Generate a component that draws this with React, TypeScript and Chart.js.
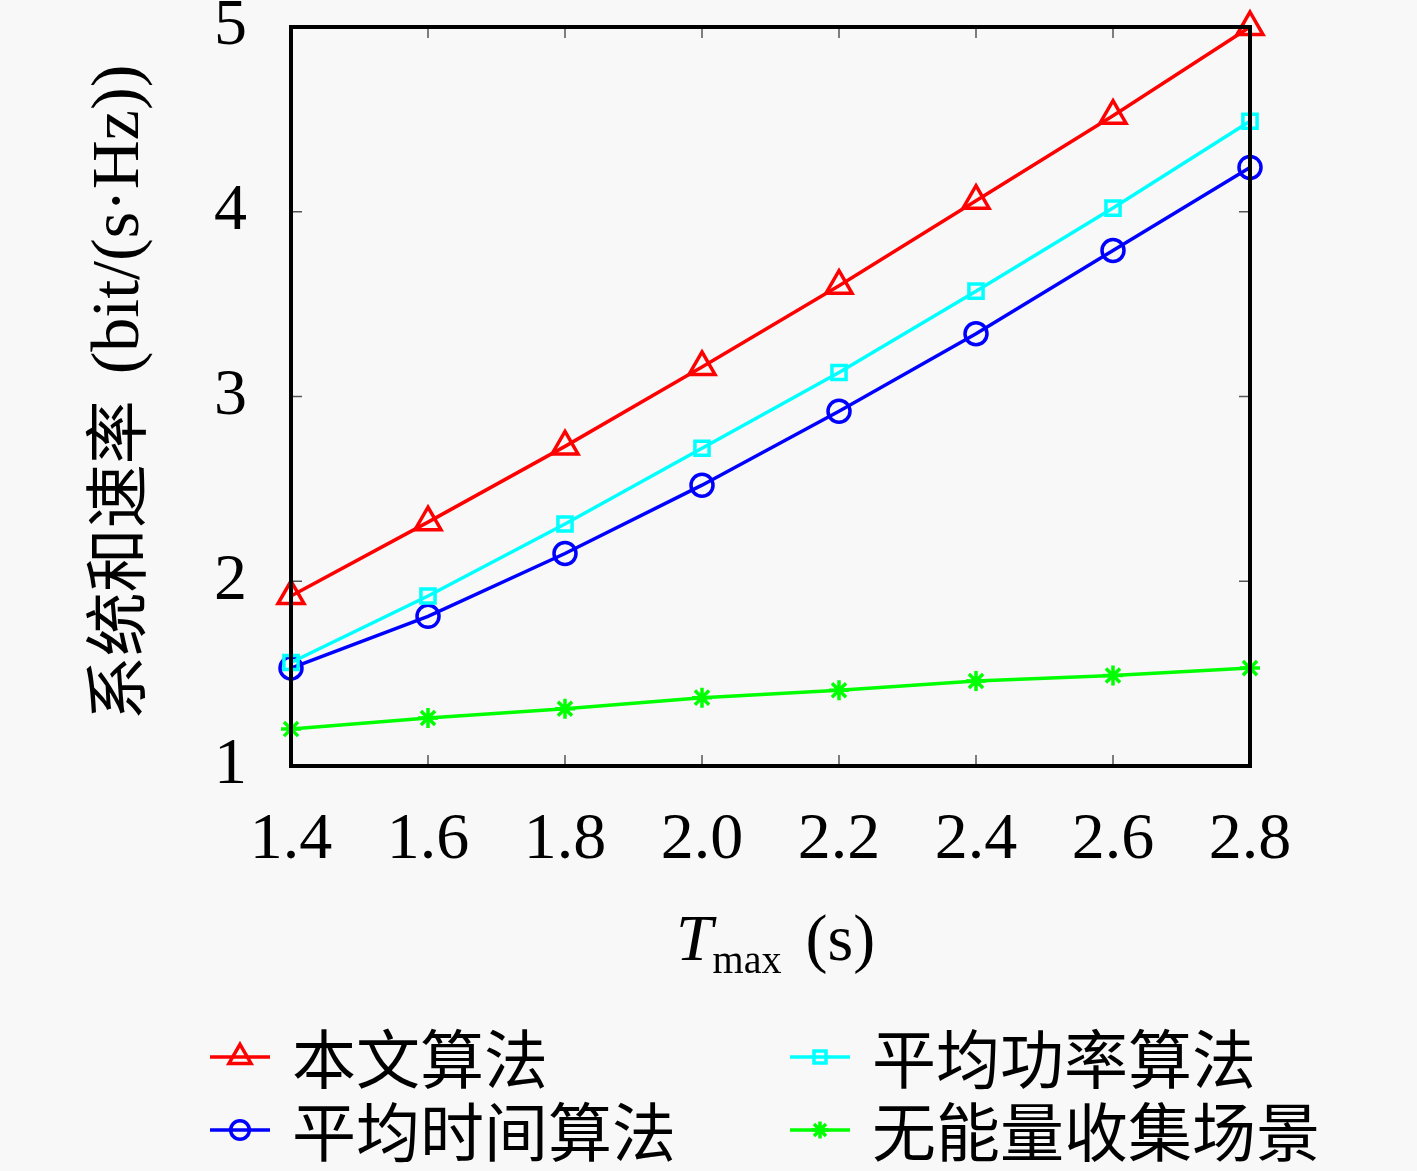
import React, { useEffect, useRef } from 'react';
import { Chart, registerables } from 'chart.js';
import { drawPoint } from 'chart.js/helpers';

Chart.register(...registerables);

// Tmax (s) categories and sum-rate values
const tmaxLabels = ['1.4', '1.6', '1.8', '2.0', '2.2', '2.4', '2.6', '2.8'];
const proposedRate = [1.92, 2.32, 2.73, 3.16, 3.60, 4.06, 4.52, 5.0];
const avgPowerRate = [1.56, 1.92, 2.31, 2.72, 3.13, 3.57, 4.02, 4.49];
const avgTimeRate = [1.53, 1.81, 2.15, 2.52, 2.92, 3.34, 3.79, 4.24];
const noHarvestRate = [1.20, 1.26, 1.31, 1.37, 1.41, 1.46, 1.49, 1.53];
const seriesNames = ['本文算法', '平均功率算法', '平均时间算法', '无能量收集场景'];
const yMin = 1;
const yMax = 5;

const SERIF = '"Liberation Serif", "Times New Roman", serif';
const CJK = '"Noto Sans CJK SC", sans-serif';

const decorPlugin = {
  id: 'decor',
  beforeDraw(chart: any) {
    const { ctx, width, height } = chart;
    ctx.save();
    ctx.fillStyle = '#f8f8f8';
    ctx.fillRect(0, 0, width, height);
    ctx.restore();
  },
  afterDatasetsDraw(chart: any) {
    const { ctx, chartArea: a, scales } = chart;
    ctx.save();
    // inward ticks on all four sides
    ctx.strokeStyle = '#555';
    ctx.lineWidth = 1.5;
    const tl = 11;
    scales.x.ticks.forEach((_t: any, i: number) => {
      const x = scales.x.getPixelForTick(i);
      ctx.beginPath();
      ctx.moveTo(x, a.bottom);
      ctx.lineTo(x, a.bottom - tl);
      ctx.moveTo(x, a.top);
      ctx.lineTo(x, a.top + tl);
      ctx.stroke();
    });
    scales.y.ticks.forEach((t: any) => {
      const y = scales.y.getPixelForValue(t.value);
      ctx.beginPath();
      ctx.moveTo(a.left, y);
      ctx.lineTo(a.left + tl, y);
      ctx.moveTo(a.right, y);
      ctx.lineTo(a.right - tl, y);
      ctx.stroke();
    });
    // frame
    ctx.strokeStyle = '#000';
    ctx.lineWidth = 4;
    ctx.strokeRect(a.left, a.top, a.right - a.left, a.bottom - a.top);
    ctx.restore();
  },
  afterDraw(chart: any) {
    const { ctx, chartArea: a } = chart;
    ctx.save();
    ctx.fillStyle = '#000';
    ctx.textBaseline = 'alphabetic';

    // x title: T_max (s)
    const cx = (a.left + a.right) / 2 + 5;
    ctx.font = `italic 66px ${SERIF}`;
    const wT = ctx.measureText('T').width;
    ctx.font = `40px ${SERIF}`;
    const wSub = ctx.measureText('max').width;
    ctx.font = `66px ${SERIF}`;
    const wUnit = ctx.measureText('(s)').width;
    const gap = 24;
    let x = cx - (wT + wSub + gap + wUnit) / 2;
    ctx.font = `italic 66px ${SERIF}`;
    ctx.fillText('T', x, 960);
    x += wT;
    ctx.font = `40px ${SERIF}`;
    ctx.fillText('max', x, 973);
    x += wSub + gap;
    ctx.font = `66px ${SERIF}`;
    ctx.fillText('(s)', x, 960);

    // y title, rotated
    ctx.save();
    ctx.translate(140, (a.top + a.bottom) / 2 - 4);
    ctx.rotate(-Math.PI / 2);
    ctx.font = `64px ${CJK}`;
    const zh = '系统和速率';
    const wZh = ctx.measureText(zh).width;
    ctx.font = `68px ${SERIF}`;
    const unit = '(bit/(s·Hz))';
    const wU = ctx.measureText(unit).width;
    const sp = 26;
    let yx = -(wZh + sp + wU) / 2;
    ctx.textBaseline = 'alphabetic';
    ctx.font = `64px ${CJK}`;
    ctx.fillText(zh, yx, 0);
    yx += wZh + sp;
    ctx.font = `68px ${SERIF}`;
    ctx.fillText(unit, yx, -2);
    ctx.restore();

    // legend, two columns
    const cols = [210, 790];
    const rows = [1057, 1130];
    chart.data.datasets.forEach((ds: any, i: number) => {
      const lx = cols[i % 2];
      const ly = rows[Math.floor(i / 2)];
      ctx.strokeStyle = ds.borderColor;
      ctx.lineWidth = ds.borderWidth;
      ctx.beginPath();
      ctx.moveTo(lx, ly);
      ctx.lineTo(lx + 60, ly);
      ctx.stroke();
      ctx.fillStyle = 'rgba(0,0,0,0)';
      ctx.lineWidth = ds.pointBorderWidth;
      drawPoint(ctx, { pointStyle: ds.pointStyle, radius: ds.pointRadius * 0.85, borderWidth: ds.pointBorderWidth, rotation: 0 }, lx + 30, ly);
      ctx.fillStyle = '#000';
      ctx.font = `64px ${CJK}`;
      ctx.textBaseline = 'middle';
      ctx.fillText(ds.label, lx + 82, ly + 2);
    });
    ctx.restore();
  },
};

function makeSeries(label: string, data: number[], color: string, style: string, radius: number) {
  return {
    label,
    data,
    borderColor: color,
    borderWidth: 3.5,
    pointStyle: style,
    pointRadius: radius,
    pointBorderWidth: 3.5,
    pointBorderColor: color,
    pointBackgroundColor: 'rgba(0,0,0,0)',
    fill: false,
    tension: 0,
    clip: false,
  };
}

export default function App() {
  const canvasRef = useRef<HTMLCanvasElement | null>(null);

  useEffect(() => {
    if (!canvasRef.current) return;
    const chart = new Chart(canvasRef.current, {
      type: 'line',
      data: {
        labels: tmaxLabels,
        datasets: [
          makeSeries(seriesNames[0], proposedRate, '#ff0000', 'triangle', 15),
          makeSeries(seriesNames[1], avgPowerRate, '#00ffff', 'rect', 10),
          makeSeries(seriesNames[2], avgTimeRate, '#0000ff', 'circle', 11),
          makeSeries(seriesNames[3], noHarvestRate, '#00ff00', 'star', 10),
        ] as any,
      },
      options: {
        animation: false,
        responsive: false,
        events: [],
        layout: { padding: { top: 27, right: 167, left: 0, bottom: 0 } },
        plugins: { legend: { display: false }, tooltip: { enabled: false } },
        scales: {
          x: {
            type: 'category',
            offset: false,
            grid: { display: false, drawTicks: false },
            border: { display: false },
            ticks: {
              color: '#000',
              font: { family: SERIF, size: 66 },
              padding: 35,
              maxRotation: 0,
              autoSkip: false,
            },
            afterFit: (s: any) => {
              s.height = 405;
              s.paddingLeft = 0;
              s.paddingRight = 0;
            },
          },
          y: {
            min: yMin,
            max: yMax,
            grid: { display: false, drawTicks: false },
            border: { display: false },
            ticks: {
              stepSize: 1,
              color: '#000',
              font: { family: SERIF, size: 66 },
              padding: 44,
            },
            afterFit: (s: any) => {
              s.width = 291;
              s.paddingTop = 0;
              s.paddingBottom = 0;
            },
          },
        },
      },
      plugins: [decorPlugin],
    });
    return () => chart.destroy();
  }, []);

  return (
    <div style={{ position: 'absolute', left: 0, top: 0, width: 1417, height: 1171 }}>
      <canvas ref={canvasRef} width={1417} height={1171} style={{ display: 'block' }} />
    </div>
  );
}
